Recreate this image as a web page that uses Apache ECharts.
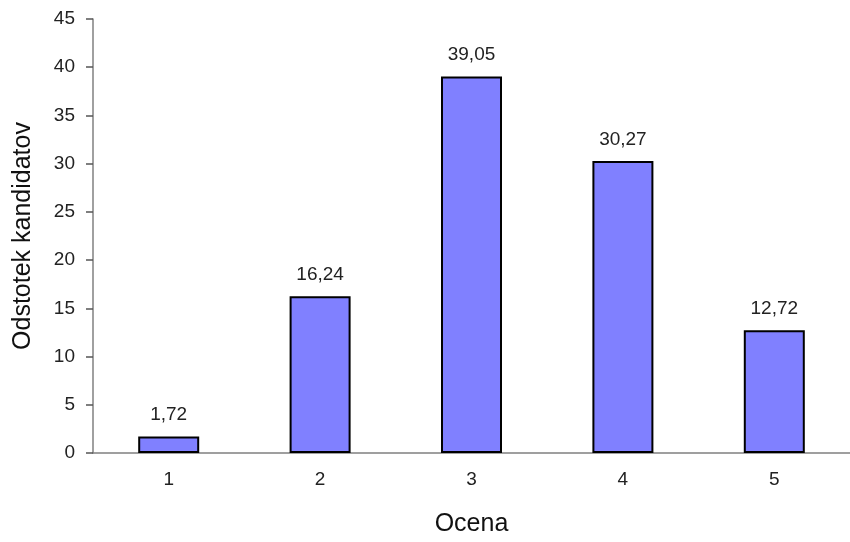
<!DOCTYPE html>
<html><head><meta charset="utf-8">
<script src="https://cdn.jsdelivr.net/npm/echarts@6/dist/echarts.min.js"></script>
<style>html,body{margin:0;padding:0;background:#fff}#c{width:850px;height:542px}</style>
</head><body><div id="c"></div>
<script>
const categories = ['1', '2', '3', '4', '5'];
const values = [1.72, 16.24, 39.05, 30.27, 12.72];
const yTicks = [0, 5, 10, 15, 20, 25, 30, 35, 40, 45];
const xTitle = 'Ocena';
const yTitle = 'Odstotek kandidatov';

const chart = echarts.init(document.getElementById('c'), null, {renderer: 'canvas'});
const font = 'Liberation Sans, Arial, sans-serif';
chart.setOption({
  animation: false,
  backgroundColor: '#fff',
  grid: {left: 93, top: 19, width: 763, height: 435, containLabel: false},
  xAxis: {
    type: 'category', data: categories,
    name: xTitle, nameLocation: 'middle', nameGap: 59,
    nameTextStyle: {fontFamily: font, fontSize: 25, color: '#111'},
    axisLine: {lineStyle: {color: '#808080', width: 1.5}},
    axisTick: {length: 6, lineStyle: {color: '#555', width: 1.5}},
    axisLabel: {fontFamily: font, fontSize: 19, color: '#222', margin: 17}
  },
  yAxis: {
    type: 'value', min: yTicks[0], max: yTicks[yTicks.length - 1], interval: 5,
    name: yTitle, nameLocation: 'middle', nameGap: 57,
    nameTextStyle: {fontFamily: font, fontSize: 25, color: '#111'},
    axisLine: {show: true, lineStyle: {color: '#808080', width: 1.5}},
    axisTick: {show: true, length: 7, lineStyle: {color: '#555', width: 1.5}},
    axisLabel: {fontFamily: font, fontSize: 19, color: '#222', margin: 18},
    splitLine: {show: false}
  },
  series: [{
    type: 'bar', data: values, barWidth: 61,
    itemStyle: {color: '#8080FF', borderColor: '#000', borderWidth: 2},
    label: {
      show: true, position: 'top', distance: 12,
      fontFamily: font, fontSize: 19, color: '#222',
      formatter: p => p.value.toFixed(2).replace('.', ',')
    }
  }]
});
</script></body></html>
